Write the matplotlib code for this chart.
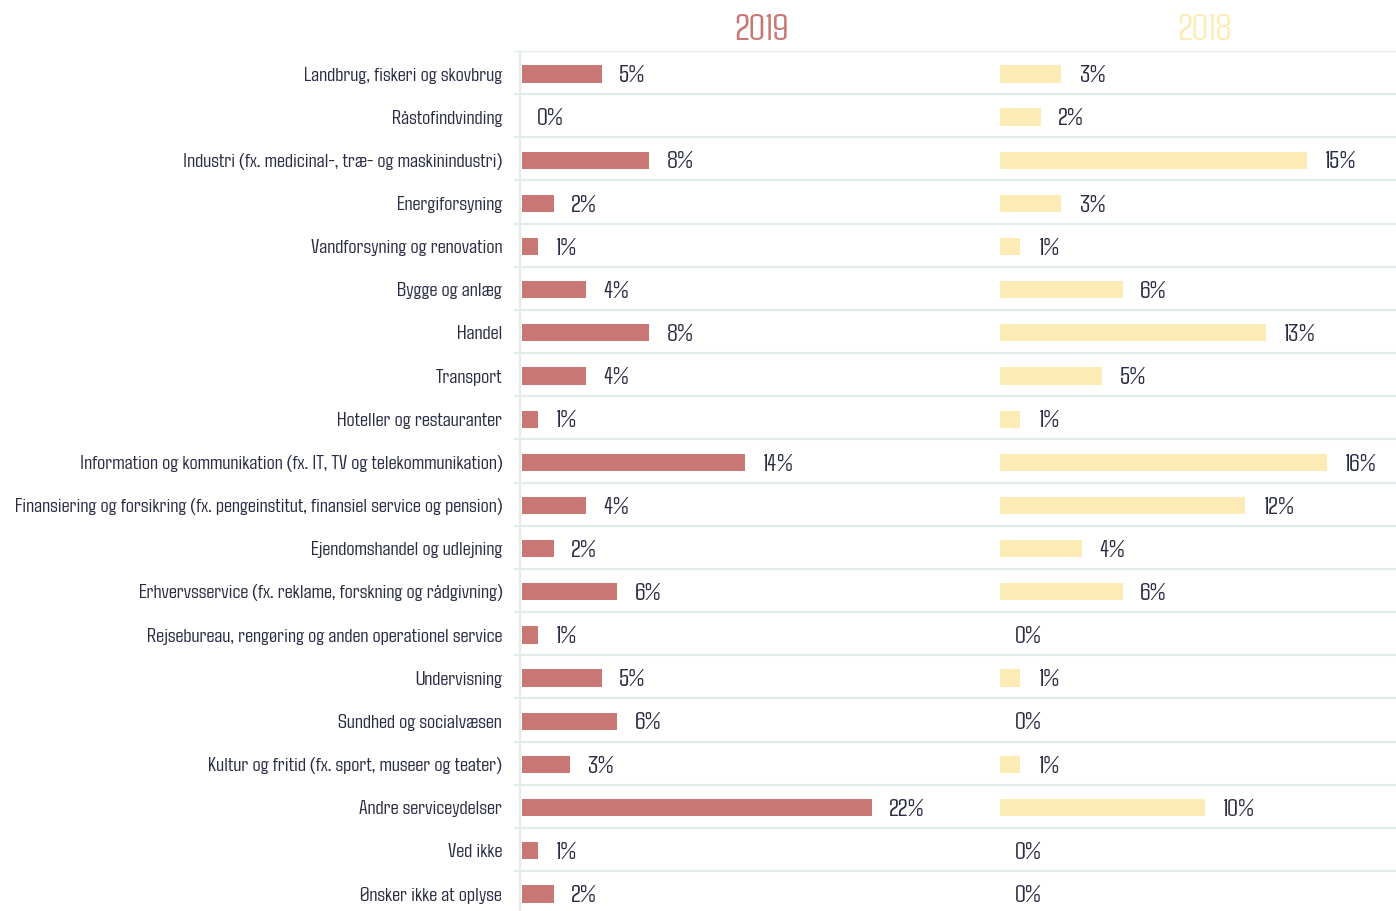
import numpy as np
import matplotlib.pyplot as plt

plt.rcParams['font.family'] = ['Agdasima', 'DejaVu Sans']

kategorier = [
    'Landbrug, fiskeri og skovbrug',
    'Råstofindvinding',
    'Industri (fx. medicinal-, træ- og maskinindustri)',
    'Energiforsyning',
    'Vandforsyning og renovation',
    'Bygge og anlæg',
    'Handel',
    'Transport',
    'Hoteller og restauranter',
    'Information og kommunikation (fx. IT, TV og telekommunikation)',
    'Finansiering og forsikring (fx. pengeinstitut, finansiel service og pension)',
    'Ejendomshandel og udlejning',
    'Erhvervsservice (fx. reklame, forskning og rådgivning)',
    'Rejsebureau, rengøring og anden operationel service',
    'Undervisning',
    'Sundhed og socialvæsen',
    'Kultur og fritid (fx. sport, museer og teater)',
    'Andre serviceydelser',
    'Ved ikke',
    'Ønsker ikke at oplyse',
]
andel_2019 = [5, 0, 8, 2, 1, 4, 8, 4, 1, 14, 4, 2, 6, 1, 5, 6, 3, 22, 1, 2]
andel_2018 = [3, 2, 15, 3, 1, 6, 13, 5, 1, 16, 12, 4, 6, 0, 1, 0, 1, 10, 0, 0]

W, H = 1396, 912
fig = plt.figure(figsize=(W / 100, H / 100), dpi=100)
fig.patch.set_facecolor('white')

tekst = '#2a2c44'
gitter = '#e2ede9'
roed = '#c97775'
gul = '#fcebb5'
n = len(kategorier)
y = np.arange(n)

# panel layout in pixels
top_px = 52
row_px = 43.16
bottom_px = top_px + row_px * n

def panel(left_px, right_px, zero_px, px_per_pct):
    ax = fig.add_axes([left_px / W, 1 - bottom_px / H,
                       (right_px - left_px) / W, (bottom_px - top_px) / H])
    ax.set_xlim(-(zero_px - left_px) / px_per_pct, (right_px - zero_px) / px_per_pct)
    ax.set_ylim(n - 0.5, -0.5)
    for s in ax.spines.values():
        s.set_visible(False)
    ax.tick_params(length=0)
    ax.set_xticks([])
    for b in np.arange(n + 1) - 0.5:
        ax.axhline(b, color=gitter, lw=1.6, zorder=0)
    return ax

ax1 = panel(514, 1000, 522, 15.9)
ax2 = panel(1000, 1396, 1000, 20.45)

ax1.axvline(-0.1, color=gitter, lw=1.6, zorder=0)

ax1.barh(y + 0.03, andel_2019, height=0.4, color=roed, zorder=2)
ax2.barh(y + 0.03, andel_2018, height=0.4, color=gul, zorder=2)

for ax, vals in ((ax1, andel_2019), (ax2, andel_2018)):
    for i, v in enumerate(vals):
        ax.annotate(f'{v}%', (v, i), xytext=(11 if v == 0 else 12.5, -1.8),
                    textcoords='offset points', ha='left', va='center',
                    fontsize=18, color=tekst)

ax1.set_yticks(y)
ax1.set_yticklabels(kategorier, fontsize=15.3, color=tekst)
ax1.tick_params(axis='y', pad=8.5)
ax2.set_yticks([])

fig.text(761 / W, 1 - 31 / H, '2019', ha='center', va='center', fontsize=27, color=roed)
fig.text(1205 / W, 1 - 31 / H, '2018', ha='center', va='center', fontsize=27, color=gul)

fig.savefig('out.png', dpi=100, facecolor='white')
